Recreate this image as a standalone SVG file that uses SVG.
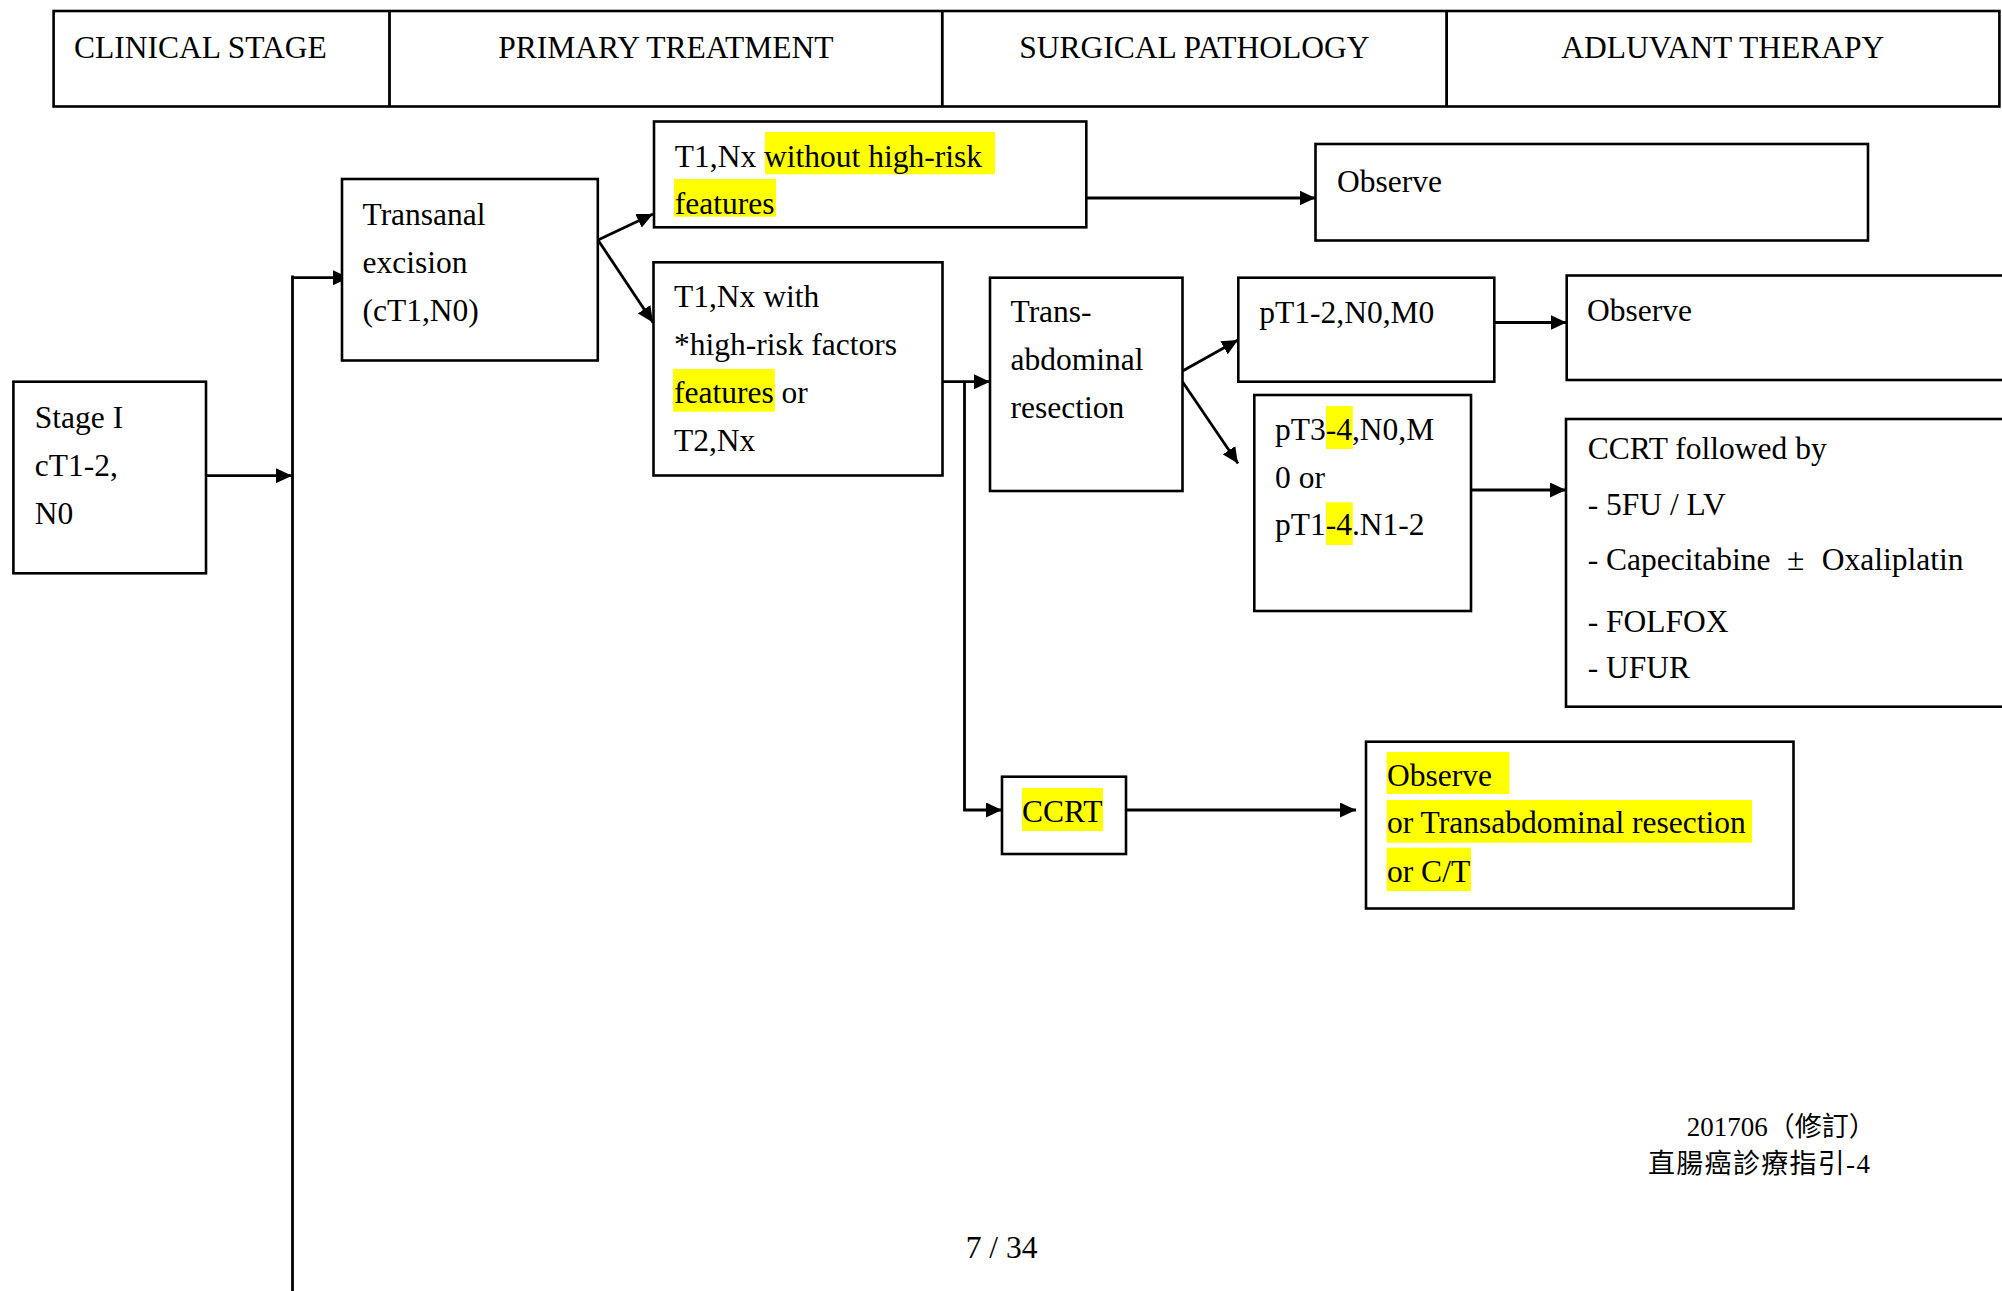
<svg xmlns="http://www.w3.org/2000/svg" width="2002" height="1291" viewBox="0 0 2002 1291">
<style>
  .box { fill: #ffffff; stroke: #000000; stroke-width: 2.6; }
  .t { font-family: "Liberation Serif", "Times New Roman", serif; font-size: 31.5px; fill: #000000; }
  .hl { fill: #ffff00; stroke: none; }
  .ln { fill: none; stroke: #000000; stroke-width: 2.8; }
  .arr { fill: none; stroke: #000000; stroke-width: 2.8; marker-end: url(#ah); }
  .cjk { font-family: "Liberation Serif", "Noto Sans CJK TC", serif; font-size: 27px; fill: #000000; }
</style>
<defs>
  <marker id="ah" markerUnits="userSpaceOnUse" markerWidth="17" markerHeight="15" refX="16" refY="7.5" orient="auto">
    <path d="M0,0 L16,7.5 L0,15 Z" fill="#000000"/>
  </marker>
</defs>
<rect x="0" y="0" width="2002" height="1291" fill="#ffffff"/>

<g id="header">
  <rect class="box" x="53.6" y="11" width="1945.8" height="95.5"/>
  <line class="ln" x1="389.5" y1="11" x2="389.5" y2="106.5"/>
  <line class="ln" x1="942.3" y1="11" x2="942.3" y2="106.5"/>
  <line class="ln" x1="1446.6" y1="11" x2="1446.6" y2="106.5"/>
  <text class="t" x="74" y="57.5">CLINICAL STAGE</text>
  <text class="t" x="665.8" y="57.5" text-anchor="middle">PRIMARY TREATMENT</text>
  <text class="t" x="1194.4" y="57.5" text-anchor="middle">SURGICAL PATHOLOGY</text>
  <text class="t" x="1722.8" y="57.5" text-anchor="middle">ADLUVANT THERAPY</text>
</g>

<g id="connectors">
  <line class="arr" x1="206" y1="475.7" x2="292" y2="475.7"/>
  <line class="ln" x1="292.5" y1="275.5" x2="292.5" y2="1291"/>
  <line class="arr" x1="292.5" y1="277.7" x2="349" y2="277.7"/>
  <line class="arr" x1="598" y1="240" x2="653" y2="214"/>
  <line class="arr" x1="598" y1="240" x2="653" y2="322.5"/>
  <line class="arr" x1="1086.3" y1="198" x2="1315.5" y2="198"/>
  <line class="arr" x1="942.5" y1="381.7" x2="990" y2="381.7"/>
  <polyline class="arr" points="964.5,381.7 964.5,810 1002,810"/>
  <line class="arr" x1="1182.5" y1="371" x2="1238" y2="340"/>
  <line class="arr" x1="1182.5" y1="381.7" x2="1238" y2="463.5"/>
  <line class="arr" x1="1494.3" y1="322.5" x2="1566.5" y2="322.5"/>
  <line class="arr" x1="1471" y1="490" x2="1566" y2="490"/>
  <line class="arr" x1="1126" y1="810" x2="1356" y2="810"/>
</g>

<g id="stage1">
  <rect class="box" x="13.4" y="381.7" width="192.6" height="191.6"/>
  <text class="t" x="34.8" y="428">Stage I</text>
  <text class="t" x="34.8" y="476">cT1-2,</text>
  <text class="t" x="34.8" y="523.5">N0</text>
</g>

<g id="transanal">
  <rect class="box" x="342" y="179" width="255.8" height="181.5"/>
  <text class="t" x="362.5" y="224.7">Transanal</text>
  <text class="t" x="362.5" y="272.5">excision</text>
  <text class="t" x="362.5" y="320.5">(cT1,N0)</text>
</g>

<g id="t1-without">
  <rect class="box" x="654" y="121.5" width="432.3" height="105.8"/>
  <rect class="hl" x="765" y="132" width="230" height="42.3"/>
  <rect class="hl" x="674" y="179" width="102" height="37.7"/>
  <text class="t" x="674.8" y="166.7">T1,Nx without high-risk</text>
  <text class="t" x="674.8" y="214">features</text>
</g>

<g id="t1-with">
  <rect class="box" x="653.5" y="262.3" width="289" height="213.2"/>
  <rect class="hl" x="673" y="369" width="101.8" height="42.7"/>
  <text class="t" x="674" y="306.7">T1,Nx with</text>
  <text class="t" x="674" y="355">*high-risk factors</text>
  <text class="t" x="674" y="402.7">features or</text>
  <text class="t" x="674" y="450.7">T2,Nx</text>
</g>

<g id="observe1">
  <rect class="box" x="1315.5" y="144" width="552.5" height="96.5"/>
  <text class="t" x="1337" y="191.5">Observe</text>
</g>

<g id="transabdominal">
  <rect class="box" x="990" y="277.7" width="192.5" height="213.3"/>
  <text class="t" x="1010.5" y="322.3">Trans-</text>
  <text class="t" x="1010.5" y="370">abdominal</text>
  <text class="t" x="1010.5" y="418.3">resection</text>
</g>

<g id="pt12">
  <rect class="box" x="1238.3" y="277.7" width="256" height="104"/>
  <text class="t" x="1259.3" y="323.3">pT1-2,N0,M0</text>
</g>

<g id="pt34">
  <rect class="box" x="1254.3" y="395" width="216.7" height="216"/>
  <rect class="hl" x="1326" y="406" width="26.7" height="43"/>
  <rect class="hl" x="1326" y="502.3" width="26.7" height="42.7"/>
  <text class="t" x="1275" y="440">pT3-4,N0,M</text>
  <text class="t" x="1275" y="488.3">0 or</text>
  <text class="t" x="1275" y="535">pT1-4.N1-2</text>
</g>

<g id="observe2">
  <rect class="box" x="1566.7" y="275.5" width="450" height="104.5"/>
  <text class="t" x="1587" y="321">Observe</text>
</g>

<g id="ccrt-followed">
  <rect class="box" x="1566" y="419" width="450" height="287.7"/>
  <text class="t" x="1587.7" y="459.3">CCRT followed by</text>
  <text class="t" x="1587.7" y="515">- 5FU / LV</text>
  <text class="t" x="1587.7" y="570">- Capecitabine<tspan x="1787">±</tspan><tspan x="1821.7">Oxaliplatin</tspan></text>
  <text class="t" x="1587.7" y="631.7">- FOLFOX</text>
  <text class="t" x="1587.7" y="678.3">- UFUR</text>
</g>

<g id="ccrt">
  <rect class="box" x="1002" y="776.7" width="124" height="77.3"/>
  <rect class="hl" x="1022" y="788" width="81" height="43"/>
  <text class="t" x="1022" y="821.7">CCRT</text>
</g>

<g id="final">
  <rect class="box" x="1366" y="741.7" width="427.5" height="166.8"/>
  <rect class="hl" x="1386.6" y="752" width="122.8" height="42"/>
  <rect class="hl" x="1386.6" y="800" width="365.4" height="42.7"/>
  <rect class="hl" x="1386.6" y="847.7" width="84.4" height="43.3"/>
  <text class="t" x="1387" y="785.7">Observe</text>
  <text class="t" x="1387" y="833">or Transabdominal resection</text>
  <text class="t" x="1387" y="881.7">or C/T</text>
</g>

<g id="footer">
  <text class="cjk" x="1686.7" y="1136">201706（修訂）</text>
  <text class="cjk" x="1648" y="1173" letter-spacing="1.3">直腸癌診療指引-4</text>
  <text class="t" x="965.7" y="1258">7 / 34</text>
</g>
</svg>
